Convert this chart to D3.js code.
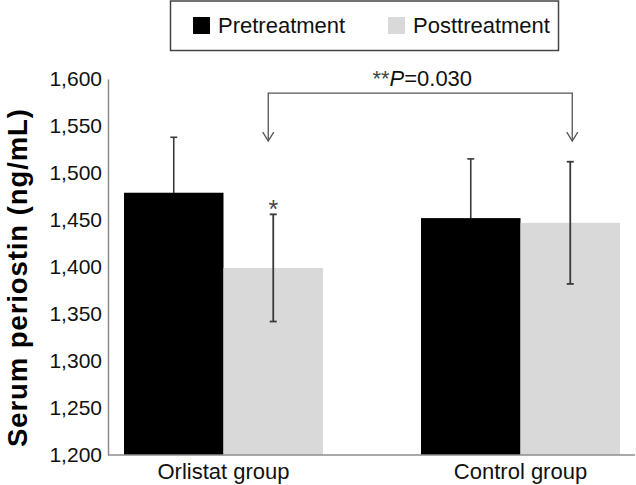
<!DOCTYPE html>
<html>
<head>
<meta charset="utf-8">
<script src="https://cdn.jsdelivr.net/npm/d3@7"></script>
<style>
  html, body { margin: 0; padding: 0; background: #fff; }
  svg { display: block; }
  text { font-family: "Liberation Sans", Arial, Helvetica, sans-serif; }
</style>
</head>
<body>
<script>
// ---- data ----
const groups = ["Orlistat group", "Control group"];
const seriesNames = ["Pretreatment", "Posttreatment"];
const preMeans = [1479, 1452];
const postMeans = [1399, 1447];
const preSD = [59, 63];
const postSD = [57, 65];
const yTicks = [1200, 1250, 1300, 1350, 1400, 1450, 1500, 1550, 1600];
const pLabel = ["**", "P", "=0.030"];
const bracketLevels = [1585, 1534]; // bracket top, arrow tip (in data units)
const colors = ["#000000", "#d9d9d9"];

const W = 636, H = 485;
const svg = d3.select("body").append("svg").attr("width", W).attr("height", H);

const y = d3.scaleLinear().domain([1200, 1600]).range([455, 79]);
const x0 = d3.scaleBand().domain(groups).range([124, 620]).paddingInner(0.33).paddingOuter(0);
const x1 = d3.scaleBand().domain(seriesNames).range([0, x0.bandwidth()]).padding(0);

const fmt = d3.format(",");

// y tick labels
const yAxis = d3.axisLeft(y).tickValues(yTicks).tickFormat(fmt).tickSize(0).tickPadding(6);
const gy = svg.append("g").attr("transform", "translate(108,0)").call(yAxis);
gy.select(".domain").attr("stroke", "#8c8c8c").attr("stroke-width", 1.5);
gy.selectAll("text").attr("font-size", 21).attr("fill", "#111")
  .attr("font-family", '"Liberation Sans", Arial, sans-serif');

const data = groups.map((g, i) => ({
  group: g,
  vals: [
    { s: seriesNames[0], v: preMeans[i], sd: preSD[i] },
    { s: seriesNames[1], v: postMeans[i], sd: postSD[i] }
  ]
}));

function errBars(sel, idx, sw) {
  data.forEach(d => {
    const e = d.vals[idx];
    const cx = x0(d.group) + x1(e.s) + x1.bandwidth() / 2;
    const g = sel.append("g").attr("stroke", "#3a3a3a").attr("stroke-width", sw);
    g.append("line").attr("x1", cx).attr("x2", cx).attr("y1", y(e.v - e.sd)).attr("y2", y(e.v + e.sd));
    [e.v - e.sd, e.v + e.sd].forEach(v => {
      g.append("line").attr("x1", cx - 3.5).attr("x2", cx + 3.5).attr("y1", y(v)).attr("y2", y(v));
    });
  });
}

// pre error bars first (lower half hidden by black bar)
errBars(svg.append("g"), 0, 1.6);

// bars
const gg = svg.append("g").selectAll("g").data(data).join("g")
  .attr("transform", d => `translate(${x0(d.group)},0)`);
gg.selectAll("rect").data(d => d.vals).join("rect")
  .attr("x", d => x1(d.s))
  .attr("width", x1.bandwidth())
  .attr("y", d => y(d.v))
  .attr("height", d => y(1200) - y(d.v))
  .attr("fill", (d, i) => colors[i]);

// post error bars on top
errBars(svg.append("g"), 1, 1.8);

// x axis line
svg.append("line").attr("x1", 108).attr("x2", 635).attr("y1", y(1200)).attr("y2", y(1200))
  .attr("stroke", "#8c8c8c").attr("stroke-width", 1.5);

// x labels
svg.append("g").selectAll("text").data(groups).join("text")
  .attr("x", d => x0(d) + x0.bandwidth() / 2)
  .attr("y", 479)
  .attr("text-anchor", "middle")
  .attr("font-size", 22)
  .attr("fill", "#111")
  .text(d => d);

// y title
svg.append("text")
  .attr("transform", `translate(27,${(108 + 448) / 2}) rotate(-90)`)
  .attr("text-anchor", "middle")
  .attr("font-size", 27.5)
  .attr("font-weight", "bold")
  .attr("fill", "#000")
  .attr("textLength", 338)
  .attr("lengthAdjust", "spacing")
  .text("Serum periostin (ng/mL)");

// asterisk above Orlistat post error bar
{
  const cx = x0(groups[0]) + x1(seriesNames[1]) + x1.bandwidth() / 2;
  svg.append("text").attr("x", cx).attr("y", y(postMeans[0] + postSD[0]) + 4)
    .attr("text-anchor", "middle").attr("font-size", 25).attr("fill", "#444").text("*");
}

// bracket with arrows
{
  const xa = x0(groups[0]) + x1(seriesNames[1]) + x1.bandwidth() / 2 - 5;
  const xb = x0(groups[1]) + x1(seriesNames[1]) + x1.bandwidth() / 2 + 2;
  const yt = y(bracketLevels[0]), yb = y(bracketLevels[1]);
  const g = svg.append("g").attr("stroke", "#555").attr("stroke-width", 1.3).attr("fill", "none");
  g.append("path").attr("d", `M${xa},${yb}V${yt}H${xb}V${yb}`);
  [xa, xb].forEach(xx => {
    g.append("path").attr("d", `M${xx - 5.5},${yb - 9}L${xx},${yb}L${xx + 5.5},${yb - 9}`);
  });
  const t = svg.append("text").attr("x", (xa + xb) / 2 + 2).attr("y", 86)
    .attr("text-anchor", "middle").attr("font-size", 22).attr("fill", "#111");
  t.append("tspan").attr("fill", "#444").text(pLabel[0]);
  t.append("tspan").attr("font-style", "italic").text(pLabel[1]);
  t.append("tspan").text(pLabel[2]);
}

// legend
{
  const lg = svg.append("g");
  lg.append("rect").attr("x", 170.5).attr("y", 1).attr("width", 388).attr("height", 49.5)
    .attr("fill", "#fff").attr("stroke", "#444").attr("stroke-width", 1.5);
  const items = [{ n: seriesNames[0], x: 193, c: colors[0] }, { n: seriesNames[1], x: 388, c: colors[1] }];
  items.forEach(it => {
    lg.append("rect").attr("x", it.x).attr("y", 17).attr("width", 17).attr("height", 17).attr("fill", it.c);
    lg.append("text").attr("x", it.x + 25).attr("y", 33).attr("font-size", 22).attr("fill", "#111").text(it.n);
  });
}
</script>
</body>
</html>
